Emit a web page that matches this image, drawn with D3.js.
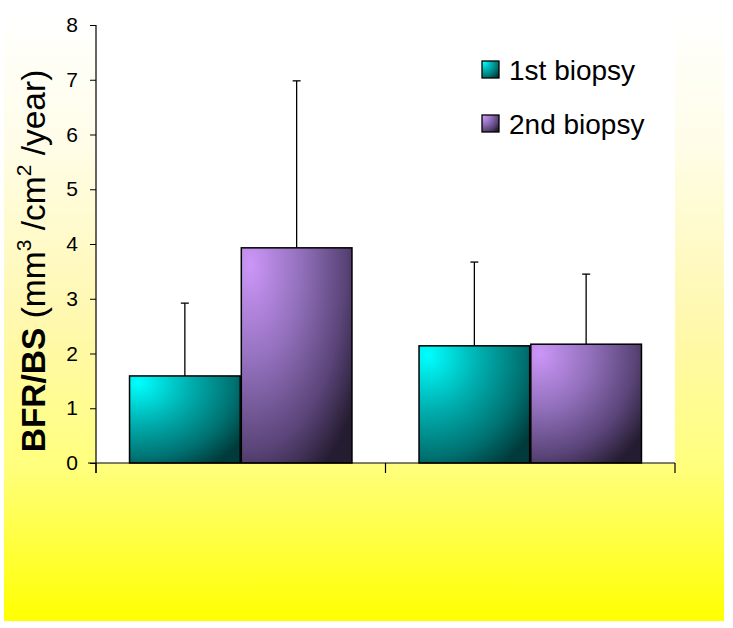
<!DOCTYPE html>
<html><head><meta charset="utf-8">
<script src="https://cdn.jsdelivr.net/npm/d3@7"></script>
<style>body{margin:0;background:#fff}svg{display:block}text{font-family:Arial,"Liberation Sans",sans-serif}</style>
</head><body>
<svg id="c" width="733" height="628"></svg>
<script>
const categories = ["Group A", "Group B"];
const series = ["1st biopsy", "2nd biopsy"];
const means1 = [1.59, 2.14];
const means2 = [3.93, 2.17];
const errs1 = [1.33, 1.53];
const errs2 = [3.05, 1.28];
const yTicks = [0, 1, 2, 3, 4, 5, 6, 7, 8];

(function(){
const svg = d3.select("#c");
const defs = svg.append("defs");

const bg = defs.append("linearGradient").attr("id","bg").attr("x1",0).attr("y1",0).attr("x2",0).attr("y2",1);
[[0,"#ffffff"],[0.22,"#fffde8"],[0.5,"#fff8b0"],[0.75,"#ffff7c"],[1,"#ffff00"]].forEach(([o,c])=>bg.append("stop").attr("offset",o).attr("stop-color",c));

function radial(id, stops){
  const g = defs.append("radialGradient").attr("id",id).attr("cx",0.08).attr("cy",0.08).attr("fx",0.08).attr("fy",0.08).attr("r",1.15);
  stops.forEach(([o,c])=>g.append("stop").attr("offset",o).attr("stop-color",c));
}
radial("g0", [[0,"#00ffff"],[0.4,"#00b0b0"],[0.75,"#007272"],[1,"#003a3a"]]);
radial("g1", [[0,"#cc96f8"],[0.4,"#9270bc"],[0.75,"#5a4478"],[1,"#241c30"]]);

svg.append("rect").attr("x",4).attr("y",10).attr("width",720).attr("height",611).attr("fill","url(#bg)");

const pL = 96, pR = 675, pT = 25, pB = 463;
svg.append("rect").attr("x",pL).attr("y",0).attr("width",pR-pL).attr("height",pB).attr("fill","#fff");

const y = d3.scaleLinear().domain([0,8]).range([pB, pT]);
const x0 = d3.scaleBand().domain(categories).range([pL, pR]).paddingInner(0).paddingOuter(0);
const x1 = d3.scaleBand().domain(series).range([0, x0.bandwidth()]).paddingInner(0.01).paddingOuter(0.3);

const data = categories.map((c,i)=>({cat:c, vals:[{s:0,v:means1[i],e:errs1[i]},{s:1,v:means2[i],e:errs2[i]}]}));

const g = svg.append("g");
data.forEach(d=>{
  d.vals.forEach(b=>{
    const bx = x0(d.cat) + x1(series[b.s]);
    const bw = x1.bandwidth();
    g.append("rect").attr("x",bx).attr("y",y(b.v)).attr("width",bw).attr("height",y(0)-y(b.v))
      .attr("fill",`url(#g${b.s})`).attr("stroke","#000").attr("stroke-width",1.5);
    const cx = bx + bw/2;
    g.append("line").attr("x1",cx).attr("x2",cx).attr("y1",y(b.v)).attr("y2",y(b.v+b.e)).attr("stroke","#000").attr("stroke-width",1.3);
    g.append("line").attr("x1",cx-4).attr("x2",cx+4).attr("y1",y(b.v+b.e)).attr("y2",y(b.v+b.e)).attr("stroke","#000").attr("stroke-width",1.3);
  });
});

const yAxis = d3.axisLeft(y).tickValues(yTicks).tickSize(6).tickPadding(12).tickFormat(d3.format("d"));
const ya = svg.append("g").attr("transform",`translate(${pL},0)`).call(yAxis);
ya.select(".domain").remove();
ya.selectAll("text").attr("font-size",21).attr("fill","#000").attr("font-family","Arial, 'Liberation Sans', sans-serif");
ya.selectAll("line").attr("stroke","#000");
svg.append("line").attr("x1",pL).attr("x2",pL).attr("y1",pT).attr("y2",pB+10).attr("stroke","#000").attr("stroke-width",1.2);

svg.append("line").attr("x1",pL-8).attr("x2",pR).attr("y1",pB).attr("y2",pB).attr("stroke","#000").attr("stroke-width",1.2);
const xb = categories.map(c=>x0(c)).concat([x0.range()[1]]);
svg.selectAll(".xt").data(xb).enter().append("line").attr("x1",d=>d).attr("x2",d=>d).attr("y1",pB).attr("y2",pB+10).attr("stroke","#000").attr("stroke-width",1.2);

const yl = svg.append("text").attr("transform","translate(45,261) rotate(-90)").attr("text-anchor","middle").attr("font-size",33.5).attr("fill","#000");
yl.append("tspan").attr("font-weight","bold").text("BFR/BS");
yl.append("tspan").text(" (mm");
yl.append("tspan").attr("font-size",21).attr("dy",-14).text("3");
yl.append("tspan").attr("dy",14).text(" /cm");
yl.append("tspan").attr("font-size",21).attr("dy",-14).text("2");
yl.append("tspan").attr("dy",14).text(" /year)");

series.forEach((s,i)=>{
  const ly = 61 + i*54;
  svg.append("rect").attr("x",482).attr("y",ly).attr("width",17).attr("height",17).attr("fill",`url(#g${i})`).attr("stroke","#000").attr("stroke-width",1.3);
  svg.append("text").attr("x",509).attr("y",ly+19).attr("font-size",28).attr("fill","#000").text(s);
});
})();
</script>
</body></html>
